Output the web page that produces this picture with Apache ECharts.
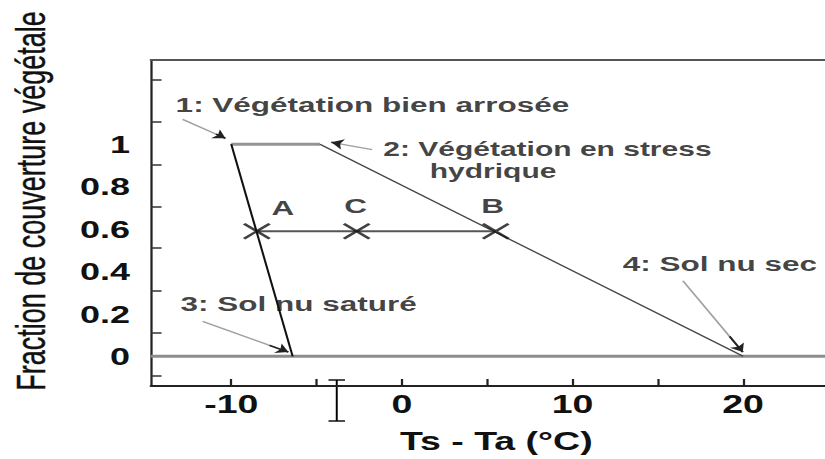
<!DOCTYPE html>
<html>
<head>
<meta charset="utf-8">
<script src="https://cdn.jsdelivr.net/npm/echarts@6/dist/echarts.min.js"></script>
<style>
  html, body { margin: 0; padding: 0; background: #fff; overflow: hidden; }
  /* the figure is laid out on a 550px-wide page and widened 1.5x, as in the printed figure */
  #chart { width: 550px; height: 459px; transform: scaleX(1.5); transform-origin: 0 0; }
</style>
</head>
<body>
<div id="chart"></div>
<script>
// Trapezoid corners (Ts - Ta in °C, vegetation cover fraction)
const vertexNames = ['1', '2', '3', '4'];
const vertexTsTa = [-10, -4.8, -6.4, 20];
const vertexCover = [1, 1, 0, 0];

// Observed pixels A, C, B on the same cover level
const pointNames = ['A', 'C', 'B'];
const pointTsTa = [-8.5, -2.65, 5.5];
const pointCover = [0.59, 0.59, 0.59];

// Axis ranges and ticks
const xRange = [-14.7, 24.8];
const yRange = [-0.14, 1.397];
const xTickValues = [-10, -5, 0, 5, 10, 15, 20];
const xLabelValues = [-10, 0, 10, 20];
const yTickValues = [-0.09, 0.11, 0.31, 0.51, 0.705, 0.905, 1.105, 1.305];
const yLabelValues = [0, 0.2, 0.4, 0.6, 0.8, 1];

// Annotations: text, anchor (left edge, vertical middle of the block)
const noteTexts = ['1: Végétation bien arrosée', '2: Végétation en stress\n{indent|hydrique}', '3: Sol nu saturé', '4: Sol nu sec'];
const noteTsTa = [-13.26, -1.09, -12.97, 12.95];
const noteCover = [1.187, 0.925, 0.246, 0.435];

// Leader arrows from each note to its corner: tail -> head
const arrowTailTsTa = [-12.85, -1.74, -11.68, 16.47];
const arrowTailCover = [1.117, 0.974, 0.165, 0.356];
const arrowHeadTsTa = [-10.34, -4.13, -6.65, 19.98];
const arrowHeadCover = [1.028, 1.009, 0.02, 0.02];

const FONT = "'Liberation Sans', Arial, Helvetica, sans-serif";
const corner = i => [vertexTsTa[i], vertexCover[i]];

const chart = echarts.init(document.getElementById('chart'), null, { renderer: 'svg' });

function lineSeries(data, color, width, z) {
  return {
    type: 'line', data: data, showSymbol: false, symbol: 'none',
    lineStyle: { color: color, width: width }, z: z, silent: true, animation: false
  };
}

// arrow shafts and the short dark tip near each head
const shafts = arrowTailTsTa.map((x, i) => ({
  coords: [[x, arrowTailCover[i]], [arrowHeadTsTa[i], arrowHeadCover[i]]]
}));
const tips = arrowTailTsTa.map((x, i) => {
  const hx = arrowHeadTsTa[i], hy = arrowHeadCover[i];
  const t = 0.78;
  return { coords: [[x + (hx - x) * t, arrowTailCover[i] + (hy - arrowTailCover[i]) * t], [hx, hy]] };
});

const option = {
  animation: false,
  backgroundColor: '#ffffff',
  grid: { left: 100.7, right: 0, top: 60, bottom: 69.7, containLabel: false },
  xAxis: [{
    type: 'value', position: 'bottom', min: xRange[0], max: xRange[1],
    name: 'Ts - Ta (°C)', nameLocation: 'middle', nameGap: 43,
    nameTextStyle: { fontFamily: FONT, fontSize: 25, fontWeight: 'bold', color: '#111', padding: [0, 0, 0, 11] },
    axisLine: { show: true, onZero: false, lineStyle: { color: '#222', width: 2 } },
    axisTick: { show: true, inside: true, length: 7, customValues: xTickValues, lineStyle: { color: '#222', width: 1.5 } },
    axisLabel: {
      show: true, customValues: xLabelValues, margin: 6,
      fontFamily: FONT, fontSize: 25, fontWeight: 'bold', color: '#111'
    },
    splitLine: { show: false }
  }, {
    type: 'value', position: 'top', min: xRange[0], max: xRange[1],
    axisLine: { show: true, onZero: false, lineStyle: { color: '#555', width: 2 } },
    axisTick: { show: false }, axisLabel: { show: false }, splitLine: { show: false }
  }],
  yAxis: {
    type: 'value', min: yRange[0], max: yRange[1],
    axisLine: { show: true, onZero: false, lineStyle: { color: '#222', width: 1.5 } },
    axisTick: { show: true, inside: true, length: 7, customValues: yTickValues, lineStyle: { color: '#333', width: 1.5 } },
    axisLabel: {
      show: true, customValues: yLabelValues, margin: 14,
      formatter: v => String(Math.round(v * 10) / 10),
      fontFamily: FONT, fontSize: 24, fontWeight: 'bold', color: '#111'
    },
    splitLine: { show: false }
  },
  graphic: [{
    type: 'text', x: 20.7, y: 201, rotation: Math.PI / 2,
    style: {
      text: 'Fraction de couverture végétale', fontFamily: FONT, fontSize: 27,
      fill: '#111', textAlign: 'center', textVerticalAlign: 'middle',
      stroke: '#111', lineWidth: 0.3
    }
  }, {
    // text cursor glyph resting under the axis
    type: 'group', children: [
      { type: 'line', shape: { x1: 224.5, y1: 380, x2: 224.5, y2: 421 }, style: { stroke: '#000', lineWidth: 1.3 } },
      { type: 'line', shape: { x1: 219, y1: 380, x2: 230, y2: 380 }, style: { stroke: '#000', lineWidth: 1.4 } },
      { type: 'line', shape: { x1: 219, y1: 421, x2: 230, y2: 421 }, style: { stroke: '#000', lineWidth: 1.4 } }
    ]
  }],
  series: [
    // bare-soil line across the plot at zero cover
    lineSeries([[xRange[0], vertexCover[2]], [xRange[1], vertexCover[3]]], '#8c8c8c', 3, 1),
    // well-watered vegetation to water-stressed vegetation
    lineSeries([corner(0), corner(1)], '#959595', 3, 2),
    // wet edge: 1 -> 3
    lineSeries([corner(0), corner(2)], '#111', 1.4, 3),
    // dry edge: 2 -> 4
    lineSeries([corner(1), corner(3)], '#444', 1.2, 3),
    // A to B at constant cover
    lineSeries([[pointTsTa[0], pointCover[0]], [pointTsTa[2], pointCover[2]]], '#555', 2, 3),
    {
      type: 'scatter', z: 5, silent: true,
      symbol: 'path://M0,0L20,18M20,0L0,18', symbolSize: [17, 15],
      itemStyle: { color: 'rgba(0,0,0,0)', borderColor: '#111', borderWidth: 2.2 },
      data: pointNames.map((n, i) => ({
        name: n, value: [pointTsTa[i], pointCover[i]],
        label: { offset: n === 'A' ? [17.3, -23] : n === 'C' ? [-0.7, -25] : [-2, -25] }
      })),
      label: {
        show: true, position: 'inside', formatter: p => p.name,
        fontFamily: FONT, fontSize: 21, fontWeight: 'bold', color: '#111'
      }
    },
    {
      type: 'lines', coordinateSystem: 'cartesian2d', z: 4, silent: true,
      symbol: ['none', 'none'],
      lineStyle: { color: '#a0a0a0', width: 1.3, opacity: 1 },
      data: shafts
    },
    {
      type: 'lines', coordinateSystem: 'cartesian2d', z: 4, silent: true,
      symbol: ['none', 'arrow'], symbolSize: [5, 8],
      lineStyle: { color: '#222', width: 1.5, opacity: 1 },
      data: tips
    },
    {
      type: 'scatter', z: 6, silent: true, symbolSize: 0,
      data: noteTexts.map((t, i) => ({
        name: t, value: [noteTsTa[i], noteCover[i]],
        label: i === 1 ? { fontSize: 20, lineHeight: 22 } : {}
      })),
      label: {
        show: true, position: 'right', distance: 0, formatter: p => p.name,
        fontFamily: FONT, fontSize: 21, fontWeight: 'bold', color: '#111', lineHeight: 22,
        rich: {
          indent: { fontFamily: FONT, fontSize: 20, fontWeight: 'bold', color: '#111', lineHeight: 22, padding: [0, 0, 0, 31] }
        }
      }
    }
  ]
};

chart.setOption(option);
</script>
</body>
</html>
